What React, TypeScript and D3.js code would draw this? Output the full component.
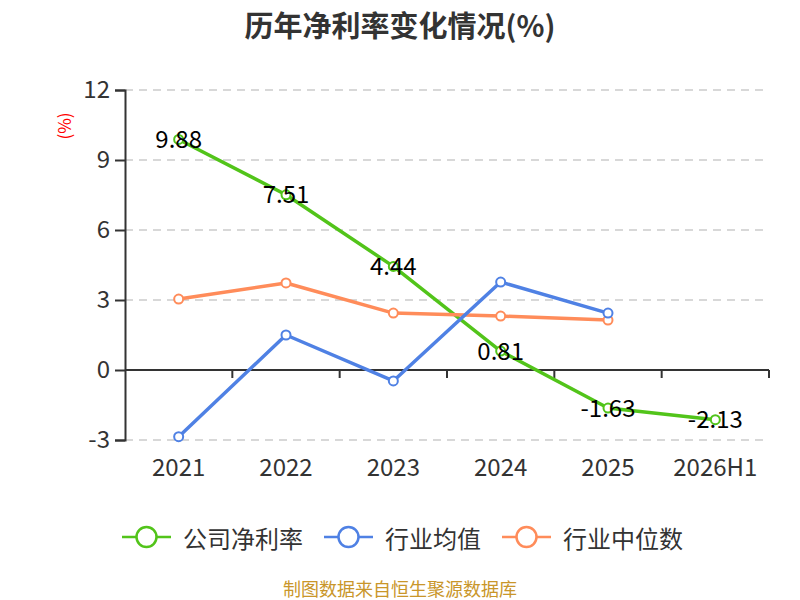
import { useEffect, useRef } from "react";
import * as d3 from "d3";

const categories = ["2021", "2022", "2023", "2024", "2025", "2026H1"];
const companyRate = [9.88, 7.51, 4.44, 0.81, -1.63, -2.13];
const industryAvg = [-2.86, 1.5, -0.47, 3.77, 2.44];
const industryMedian = [3.04, 3.73, 2.44, 2.31, 2.14];
const yTicks = [-3, 0, 3, 6, 9, 12];

const series = [
    { name: "公司净利率", values: companyRate, color: "#52c41a" },
    { name: "行业均值", values: industryAvg, color: "#4f81e4" },
    { name: "行业中位数", values: industryMedian, color: "#ff8c5a" },
];

const FONT = "'Noto Sans CJK SC', 'Noto Sans', sans-serif";

export default function App() {
    const svgRef = useRef<SVGSVGElement>(null);

    useEffect(() => {
        if (!svgRef.current) return;
        const svg = d3.select(svgRef.current);
        svg.selectAll("*").remove();

        const width = 800;
        const margin = { top: 90, right: 31, bottom: 160, left: 125 };
        const innerW = width - margin.left - margin.right;

        const x = d3.scaleBand<string>()
            .domain(categories)
            .range([margin.left, margin.left + innerW]);

        const y = d3.scaleLinear()
            .domain([-3, 12])
            .range([440, 90]);

        // Title
        svg.append("text")
            .attr("x", 400)
            .attr("y", 24)
            .attr("text-anchor", "middle")
            .attr("dominant-baseline", "central")
            .style("font-family", FONT)
            .style("font-size", "29px")
            .style("font-weight", "700")
            .style("fill", "#333")
            .text("历年净利率变化情况(%)");

        // Unit label
        svg.append("text")
            .attr("transform", "translate(63,126) rotate(-90)")
            .attr("text-anchor", "middle")
            .attr("dominant-baseline", "central")
            .style("font-family", FONT)
            .style("font-size", "17px")
            .style("fill", "#ff0000")
            .text("(%)");

        // Grid lines
        svg.append("g")
            .selectAll("line")
            .data(yTicks.filter(t => t !== 0))
            .enter()
            .append("line")
            .attr("x1", margin.left)
            .attr("x2", margin.left + innerW)
            .attr("y1", d => y(d))
            .attr("y2", d => y(d))
            .style("stroke", "#cccccc")
            .style("stroke-width", 1.5)
            .style("stroke-dasharray", "8,6");

        // Y axis
        const yAxis = svg.append("g")
            .attr("transform", `translate(${margin.left},0)`)
            .call(d3.axisLeft(y).tickValues(yTicks).tickSize(10).tickPadding(5).tickFormat(d => String(d)));
        yAxis.select(".domain").style("stroke", "#333").style("stroke-width", 2);
        yAxis.selectAll(".tick line").style("stroke", "#333").style("stroke-width", 2);
        yAxis.selectAll(".tick text")
            .style("font-family", FONT)
            .style("font-size", "24px")
            .style("fill", "#333");

        // X axis at zero
        const xAxisG = svg.append("g").attr("transform", `translate(0,${y(0)})`);
        xAxisG.append("line")
            .attr("x1", margin.left)
            .attr("x2", margin.left + innerW)
            .style("stroke", "#333")
            .style("stroke-width", 2);
        xAxisG.selectAll(".xtick")
            .data(categories)
            .enter()
            .append("line")
            .attr("x1", d => x(d)! + x.bandwidth())
            .attr("x2", d => x(d)! + x.bandwidth())
            .attr("y1", 0)
            .attr("y2", 8)
            .style("stroke", "#333")
            .style("stroke-width", 2);

        svg.append("g")
            .selectAll("text")
            .data(categories)
            .enter()
            .append("text")
            .attr("x", d => x(d)! + x.bandwidth() / 2)
            .attr("y", 465)
            .attr("text-anchor", "middle")
            .attr("dominant-baseline", "central")
            .style("font-family", FONT)
            .style("font-size", "24px")
            .style("fill", "#333")
            .text(d => d);

        // Lines
        const line = d3.line<number>()
            .x((_, i) => x(categories[i])! + x.bandwidth() / 2)
            .y(d => y(d));

        const drawOrder = [series[0], series[2], series[1]];
        drawOrder.forEach(s => {
            svg.append("path")
                .datum(s.values)
                .attr("d", line)
                .style("fill", "none")
                .style("stroke", s.color)
                .style("stroke-width", 3.5)
                .style("stroke-linejoin", "round");

            svg.append("g")
                .selectAll("circle")
                .data(s.values)
                .enter()
                .append("circle")
                .attr("cx", (_, i) => x(categories[i])! + x.bandwidth() / 2)
                .attr("cy", d => y(d))
                .attr("r", 4.5)
                .style("fill", "#fff")
                .style("stroke", s.color)
                .style("stroke-width", 2);
        });

        // Data labels
        svg.append("g")
            .selectAll("text")
            .data(companyRate)
            .enter()
            .append("text")
            .attr("x", (_, i) => x(categories[i])! + x.bandwidth() / 2)
            .attr("y", d => y(d) - 2)
            .attr("text-anchor", "middle")
            .attr("dominant-baseline", "central")
            .style("font-family", FONT)
            .style("font-size", "24px")
            .style("fill", "#000")
            .text(d => d.toFixed(2));

        // Legend, laid out in sequence
        let lx = 122;
        series.forEach(s => {
            const g = svg.append("g").attr("transform", `translate(${lx},537)`);
            g.append("line")
                .attr("x1", 0)
                .attr("x2", 49)
                .style("stroke", s.color)
                .style("stroke-width", 2.5);
            g.append("circle")
                .attr("cx", 24.5)
                .attr("r", 10)
                .style("fill", "#fff")
                .style("stroke", s.color)
                .style("stroke-width", 2.5);
            const t = g.append("text")
                .attr("x", 61)
                .attr("dominant-baseline", "central")
                .style("font-family", FONT)
                .style("font-size", "24px")
                .style("fill", "#333")
                .text(s.name);
            const tw = (t.node() as SVGTextElement).getComputedTextLength();
            lx += 61 + tw + 21;
        });

        // Footer
        svg.append("text")
            .attr("x", 400)
            .attr("y", 588)
            .attr("text-anchor", "middle")
            .attr("dominant-baseline", "central")
            .style("font-family", FONT)
            .style("font-size", "18px")
            .style("fill", "#c9962a")
            .text("制图数据来自恒生聚源数据库");
    }, []);

    return (
        <svg
            ref={svgRef}
            width={800}
            height={600}
            style={{ position: "absolute", left: 0, top: 0, background: "#fff" }}
        />
    );
}
